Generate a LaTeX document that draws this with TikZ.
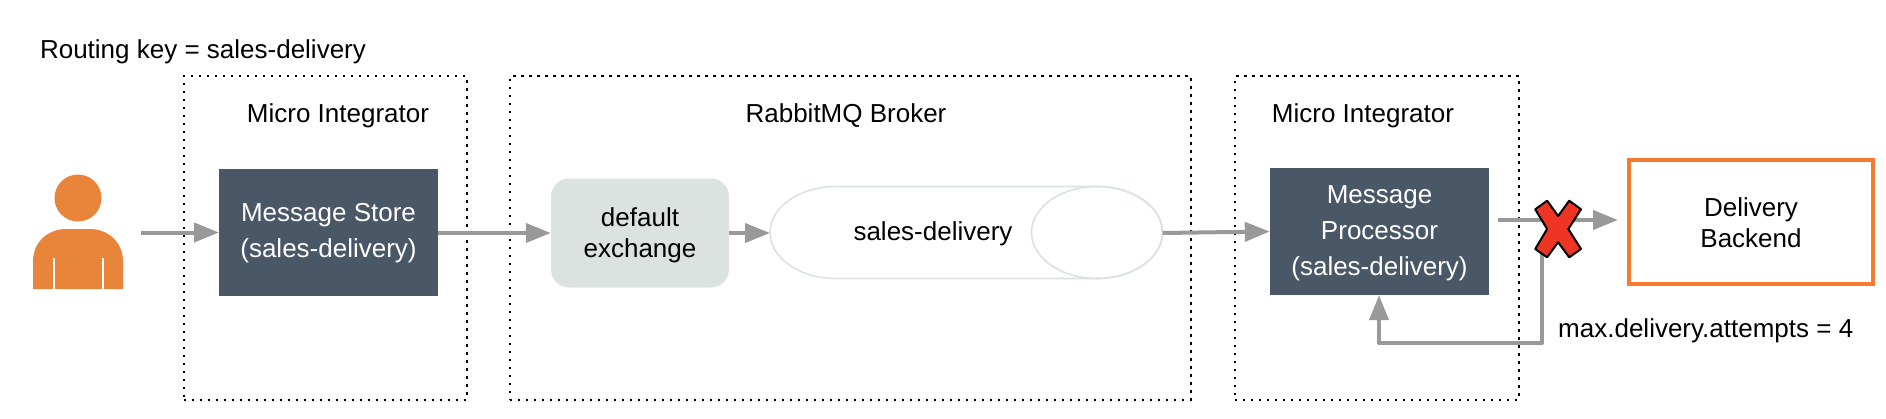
\documentclass[tikz,border=0pt]{standalone}
\usepackage{fontspec}
\setmainfont{Liberation Sans}
\usetikzlibrary{arrows.meta}
\definecolor{slateb}{HTML}{4A5766}
\definecolor{paleg}{HTML}{DBE2DF}
\definecolor{arrowg}{HTML}{999999}
\definecolor{persono}{HTML}{E8853B}
\definecolor{backo}{HTML}{F47B30}
\definecolor{crossr}{HTML}{EE3524}
\tikzset{
  dotbox/.style={draw=black,line width=2pt,dash pattern=on 2.4pt off 5.6pt,minimum width=#1,minimum height=323.5pt,inner sep=0pt},
  lbl/.style={font=\fontsize{26}{31}\selectfont,text=black,inner sep=0pt,align=center},
  darkbox/.style={fill=slateb,draw=none,text=white,font=\fontsize{26}{36}\selectfont,align=center,inner sep=0pt,minimum height=127pt,text height=18pt,text depth=6pt},
  flow/.style={draw=arrowg,line width=4pt,-{Triangle[length=25pt,width=19pt,fill=arrowg]},shorten >=0pt},
}
\begin{document}
\begin{tikzpicture}[x=1pt,y=-1pt]
\useasboundingbox (0,0) rectangle (1886,418);
% dotted containers
\node[dotbox=283pt] (mi1) at (325,238) {};
\node[dotbox=681pt] (broker) at (850.5,238) {};
\node[dotbox=284pt] (mi2) at (1377,238) {};
\node[lbl] (mi1l) at (338,116) {Micro Integrator};
\node[lbl] (brokerl) at (846,116) {RabbitMQ Broker};
\node[lbl] (mi2l) at (1363,116) {Micro Integrator};
\node[lbl] (rk) at (203,52) {Routing key = sales-delivery};
% person
\fill[persono] (78,198) circle (23.5);
\fill[persono] (33,289) -- (33,262) .. controls (33,240) and (50,229) .. (66,229) -- (90,229) .. controls (106,229) and (123,240) .. (123,262) -- (123,289) -- cycle;
\fill[white] (52.6,258) rectangle (54.6,290);
\fill[white] (101.8,258) rectangle (103.8,290);
\coordinate (pout) at (141,232.5);
\coordinate (pin) at (219,232.5);
% boxes
\node[fill=slateb,minimum width=219pt,minimum height=127pt,inner sep=0pt] (store) at (328.5,232) {};
\node[text=white,font=\fontsize{26}{36}\selectfont,align=center,inner sep=0pt] (storel) at (328.5,233.5) {Message Store\\(sales-delivery)};
\node[draw=none,fill=paleg,rounded corners=18pt,minimum width=178pt,minimum height=109pt,inner sep=0pt] (exch) at (640,233) {};
\node[lbl] (exchl) at (640,235.5) {default\\exchange};
% queue
\coordinate (qin) at (770,233);
\coordinate (qout) at (1162.5,233);
\draw[paleg,line width=1.6pt,fill=white] (836,186.5) -- (1097,186.5) arc[start angle=90,end angle=-90,x radius=65.5,y radius=-46] -- (836,278.5) arc[start angle=-90,end angle=-270,x radius=66,y radius=-46] -- cycle;
\draw[paleg,line width=1.6pt] (1097,232.5) ellipse[x radius=65.5,y radius=46];
\node[lbl] (qlabel) at (933,234) {sales-delivery};
\node[fill=slateb,minimum width=219pt,minimum height=127pt,inner sep=0pt] (proc) at (1379.5,231.5) {};
\node[text=white,font=\fontsize{26}{36}\selectfont,align=center,inner sep=0pt] (procl) at (1379.5,233) {Message\\Processor\\(sales-delivery)};
\node[draw=backo,line width=4pt,fill=white,minimum width=244pt,minimum height=124pt,inner sep=0pt] (back) at (1751,222) {};
\node[lbl] (backl) at (1751,223) {Delivery\\Backend};
\node[lbl,anchor=west] (attempts) at (1558,331) {max.delivery.attempts = 4};
% connectors
\coordinate (pmout) at (1498,220);
\coordinate (bin) at (1618,220);
\coordinate (rstart) at (1542,250);
\coordinate (rcorner) at (1542,343);
\coordinate (rcorner2) at (1379,343);
\draw[flow] (pout) -- (pin);
\draw[flow] (store.east |- exch.west) -- (exch.west);
\draw[flow] (exch.east) -- (qin);
\draw[flow] (qout) -- (proc.west);
\draw[flow] (pmout) -- (bin);
\draw[flow,line join=round] (rstart) -- (rcorner) -- (rcorner2) -- (rcorner2 |- proc.south);
% cross
\draw[black,line width=2pt,fill=crossr,line join=round] (1535.2,209.3) -- (1547.1,200.7) -- (1558.1,216) -- (1569.2,200.7) -- (1581,209.3) -- (1568.3,229) -- (1581,249) -- (1569.2,257.3) -- (1558.1,242.3) -- (1547.1,257.3) -- (1535.2,249) -- (1547.1,229) -- cycle;
\end{tikzpicture}
\end{document}
